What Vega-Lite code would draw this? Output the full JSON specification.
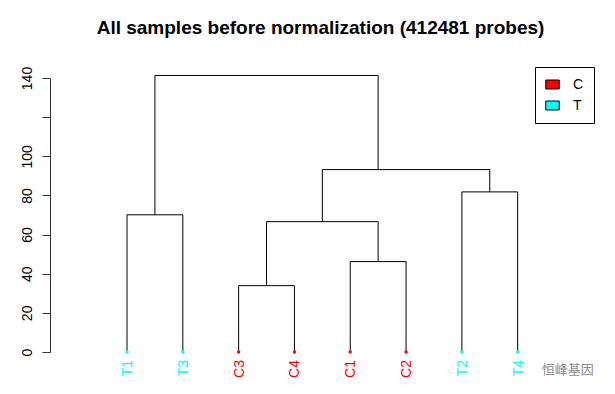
{
  "$schema": "https://vega.github.io/schema/vega-lite/v6.json",
  "width": 541,
  "height": 274,
  "autosize": {"type": "none"},
  "padding": {"left": 50, "top": 78, "right": 24, "bottom": 42},
  "background": "white",
  "title": {
    "text": "All samples before normalization (412481 probes)",
    "font": "Liberation Sans",
    "fontSize": 19,
    "fontWeight": "bold",
    "color": "black",
    "anchor": "middle",
    "offset": 28
  },
  "config": {
    "view": {"stroke": null},
    "font": "Liberation Sans",
    "axisY": {
      "title": null,
      "grid": false,
      "labelAngle": 270,
      "labelAlign": "center",
      "labelBaseline": "bottom",
      "labelPadding": 8,
      "labelFontSize": 14,
      "labelFont": "Liberation Sans",
      "labelColor": "black",
      "labelOverlap": false,
      "labelBound": false,
      "labelFlush": false,
      "tickSize": 8,
      "tickColor": "#333333",
      "domainColor": "#333333"
    },
    "legend": {
      "title": null,
      "strokeColor": "black",
      "fillColor": "white",
      "padding": 10,
      "cornerRadius": 0,
      "symbolType": "M-1,-0.67L1,-0.67L1,0.67L-1,0.67Z",
      "symbolSize": 180,
      "symbolStrokeColor": "black",
      "symbolStrokeWidth": 1,
      "symbolOpacity": 1,
      "labelFontSize": 14,
      "labelFont": "Liberation Sans",
      "labelColor": "black",
      "labelOffset": 13,
      "rowPadding": 6
    }
  },
  "datasets": {
    "leaves": [
      {"sample": "T1", "group": "T", "pos": 1},
      {"sample": "T3", "group": "T", "pos": 2},
      {"sample": "C3", "group": "C", "pos": 3},
      {"sample": "C4", "group": "C", "pos": 4},
      {"sample": "C1", "group": "C", "pos": 5},
      {"sample": "C2", "group": "C", "pos": 6},
      {"sample": "T2", "group": "T", "pos": 7},
      {"sample": "T4", "group": "T", "pos": 8}
    ],
    "segments": [
      {"x": 1, "x2": 1, "y": 0, "y2": 70.1},
      {"x": 2, "x2": 2, "y": 0, "y2": 70.1},
      {"x": 1, "x2": 2, "y": 70.1, "y2": 70.1},
      {"x": 3, "x2": 3, "y": 0, "y2": 33.9},
      {"x": 4, "x2": 4, "y": 0, "y2": 33.9},
      {"x": 3, "x2": 4, "y": 33.9, "y2": 33.9},
      {"x": 5, "x2": 5, "y": 0, "y2": 46.2},
      {"x": 6, "x2": 6, "y": 0, "y2": 46.2},
      {"x": 5, "x2": 6, "y": 46.2, "y2": 46.2},
      {"x": 7, "x2": 7, "y": 0, "y2": 81.8},
      {"x": 8, "x2": 8, "y": 0, "y2": 81.8},
      {"x": 7, "x2": 8, "y": 81.8, "y2": 81.8},
      {"x": 3.5, "x2": 3.5, "y": 33.9, "y2": 66.6},
      {"x": 5.5, "x2": 5.5, "y": 46.2, "y2": 66.6},
      {"x": 3.5, "x2": 5.5, "y": 66.6, "y2": 66.6},
      {"x": 4.5, "x2": 4.5, "y": 66.6, "y2": 93.2},
      {"x": 7.5, "x2": 7.5, "y": 81.8, "y2": 93.2},
      {"x": 4.5, "x2": 7.5, "y": 93.2, "y2": 93.2},
      {"x": 1.5, "x2": 1.5, "y": 70.1, "y2": 141.3},
      {"x": 5.5, "x2": 5.5, "y": 93.2, "y2": 141.3},
      {"x": 1.5, "x2": 5.5, "y": 141.3, "y2": 141.3}
    ]
  },
  "layer": [
    {
      "data": {"name": "segments"},
      "mark": {"type": "rule", "color": "black", "strokeWidth": 1},
      "encoding": {
        "x": {"field": "x", "type": "quantitative", "scale": {"domain": [-0.38, 9.314], "nice": false, "zero": false}, "axis": null},
        "x2": {"field": "x2"},
        "y": {
          "field": "y",
          "type": "quantitative",
          "scale": {"domain": [0, 140], "nice": false, "zero": false},
          "axis": {"values": [0, 20, 40, 60, 80, 100, 120, 140], "labelExpr": "datum.value == 120 ? '' : datum.label"}
        },
        "y2": {"field": "y2"}
      }
    },
    {
      "data": {"name": "leaves"},
      "mark": {"type": "point", "filled": true, "size": 12, "opacity": 1},
      "encoding": {
        "x": {"field": "pos", "type": "quantitative", "axis": null},
        "y": {"datum": 0, "type": "quantitative", "axis": {"values": [0, 20, 40, 60, 80, 100, 120, 140], "labelExpr": "datum.value == 120 ? '' : datum.label"}},
        "color": {
          "field": "group",
          "type": "nominal",
          "scale": {"domain": ["C", "T"], "range": ["#FF0000", "#00FFFF"]},
          "legend": {"orient": "none", "legendX": 485, "legendY": -11}
        }
      }
    },
    {
      "data": {"name": "leaves"},
      "mark": {"type": "text", "angle": 270, "align": "right", "baseline": "middle", "dx": -8, "dy": 1, "fontSize": 14, "font": "Liberation Sans"},
      "encoding": {
        "x": {"field": "pos", "type": "quantitative", "axis": null},
        "y": {"datum": 0, "type": "quantitative", "axis": {"values": [0, 20, 40, 60, 80, 100, 120, 140], "labelExpr": "datum.value == 120 ? '' : datum.label"}},
        "text": {"field": "sample"},
        "color": {"field": "group", "type": "nominal", "legend": {"orient": "none", "legendX": 485, "legendY": -11}}
      }
    },
    {
      "data": {"values": [{"label": "恒峰基因"}]},
      "mark": {"type": "text", "align": "center", "baseline": "middle", "dx": 50, "dy": 18, "fontSize": 13, "font": "Noto Sans CJK SC", "color": "#8a8a8a"},
      "encoding": {
        "x": {"datum": 8, "type": "quantitative", "axis": null},
        "y": {"datum": 0, "type": "quantitative", "axis": {"values": [0, 20, 40, 60, 80, 100, 120, 140], "labelExpr": "datum.value == 120 ? '' : datum.label"}},
        "text": {"field": "label"}
      }
    }
  ]
}
